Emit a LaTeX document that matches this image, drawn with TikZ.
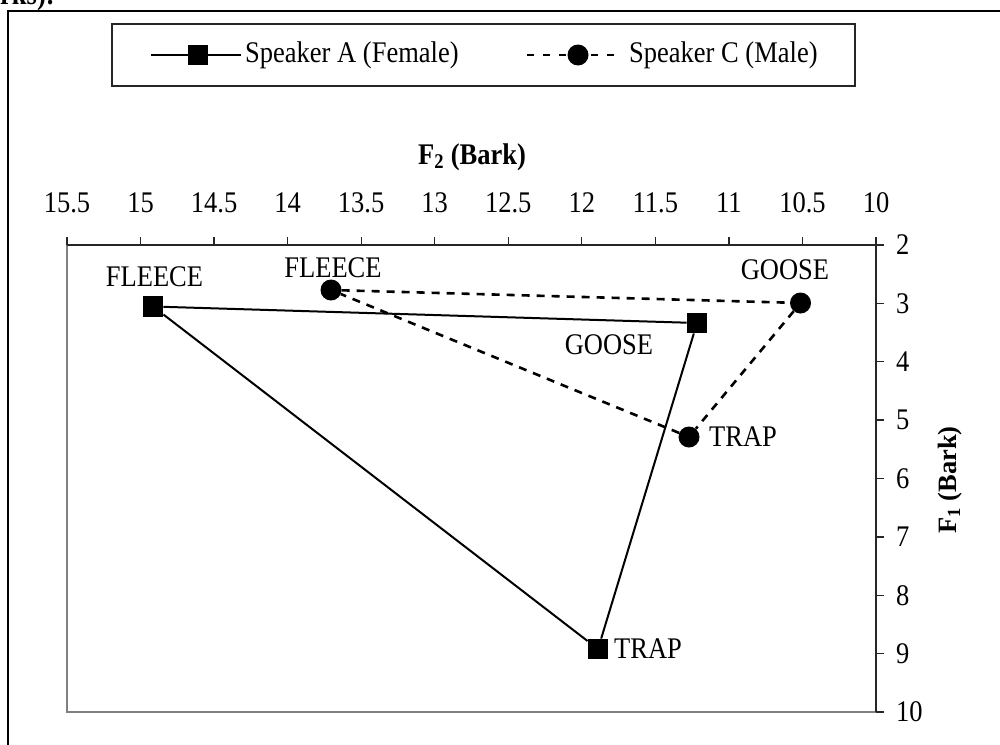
\documentclass[tikz,border=0pt]{standalone}
\usepackage{fontspec}
\setmainfont{Liberation Serif}
\newcommand\tallt[1]{\scalebox{1}[1.13]{#1}}
\begin{document}
\begin{tikzpicture}[x=1pt,y=-1pt,
  txt/.style={font=\fontsize{26.5}{30}\selectfont, inner sep=0pt},
  btxt/.style={font=\fontsize{26.5}{30}\selectfont\bfseries, inner sep=0pt},
  sqmark/.style={rectangle, fill=black, minimum size=20.5pt, inner sep=0pt},
  dotmark/.style={circle, fill=black, minimum size=21pt, inner sep=0pt},
  lineA/.style={line width=2pt, black},
  lineC/.style={line width=2.6pt, black, dash pattern=on 8pt off 7pt},
  legC/.style={line width=2.6pt, black, dash pattern=on 7pt off 9pt},
  axisline/.style={line width=1.3pt, black!85},
  plotedge/.style={line width=2pt, black!50},
  framebox/.style={line width=2pt, black},
  legbox/.style={line width=1.6pt, black!85}]
\useasboundingbox (0,0) rectangle (1000,744);
% cut-off caption text
\node[btxt, anchor=base west] (cap) at (0,5) {\tallt{rks):}};
% outer frame
\draw[framebox] (1010,11) -- (8,11) -- (8,760);
% legend
\draw[legbox] (112,24) rectangle (855,86);
\coordinate (la1) at (151,55);
\coordinate (la2) at (241,55);
\node[sqmark] (lam) at (198,55) {};
\draw[lineA] (la1) -- (la2);
\node[txt, anchor=west] (lat) at (245,55) {\tallt{Speaker A (Female)}};
\coordinate (lc1) at (527,55);
\coordinate (lc2) at (622,55);
\draw[legC] (lc1) -- (lc2);
\node[dotmark] (lcm) at (578,55) {};
\node[txt, anchor=west] (lct) at (629,55) {\tallt{Speaker C (Male)}};
% plot area edges
\draw[plotedge] (67,245) -- (67,712) -- (876,712);
% top axis
\draw[axisline] (67,245) -- (876,245);
\foreach \v [count=\i from 0] in {15.5,15,14.5,14,13.5,13,12.5,12,11.5,11,10.5,10}{
  \draw[axisline] ({67+\i*73.545},237) -- ({67+\i*73.545},245);
  \node[txt] (xl\i) at ({67+\i*73.545},203) {\tallt{\v}};
}
% right axis
\draw[axisline] (876,245) -- (876,712);
\foreach \v [count=\i from 0] in {2,...,10}{
  \draw[axisline] (876,{245+\i*58.375}) -- (884,{245+\i*58.375});
  \node[txt, anchor=west] (yl\i) at (896,{245+\i*58.375}) {\tallt{\v}};
}
% axis titles
\node[btxt] (xt) at (472,157) {\tallt{F\textsubscript{2} (Bark)}};
\node[btxt, rotate=90] (yt) at (950,480) {F\textsubscript{1} (Bark)};
% Speaker C (dashed, circles)
\node[dotmark] (cF) at (331,290) {};
\node[dotmark] (cG) at (800.5,303) {};
\node[dotmark] (cT) at (689,437) {};
\draw[lineC] (cF) -- (cG) -- (cT) -- (cF);
% Speaker A (solid, squares)
\node[sqmark] (aF) at (153,306.5) {};
\node[sqmark] (aG) at (697,323) {};
\node[sqmark] (aT) at (598,649) {};
\draw[lineA] (aF) -- (aG) -- (aT) -- (aF);
% data labels
\node[txt] (laF) at (154.5,277) {\tallt{FLEECE}};
\node[txt] (lcF) at (333,268) {\tallt{FLEECE}};
\node[txt] (lcG) at (785,270) {\tallt{GOOSE}};
\node[txt] (laG) at (609,345) {\tallt{GOOSE}};
\node[txt, anchor=west] (lcT) at (709,437) {\tallt{TRAP}};
\node[txt, anchor=west] (laT) at (614,649) {\tallt{TRAP}};
\end{tikzpicture}
\end{document}
